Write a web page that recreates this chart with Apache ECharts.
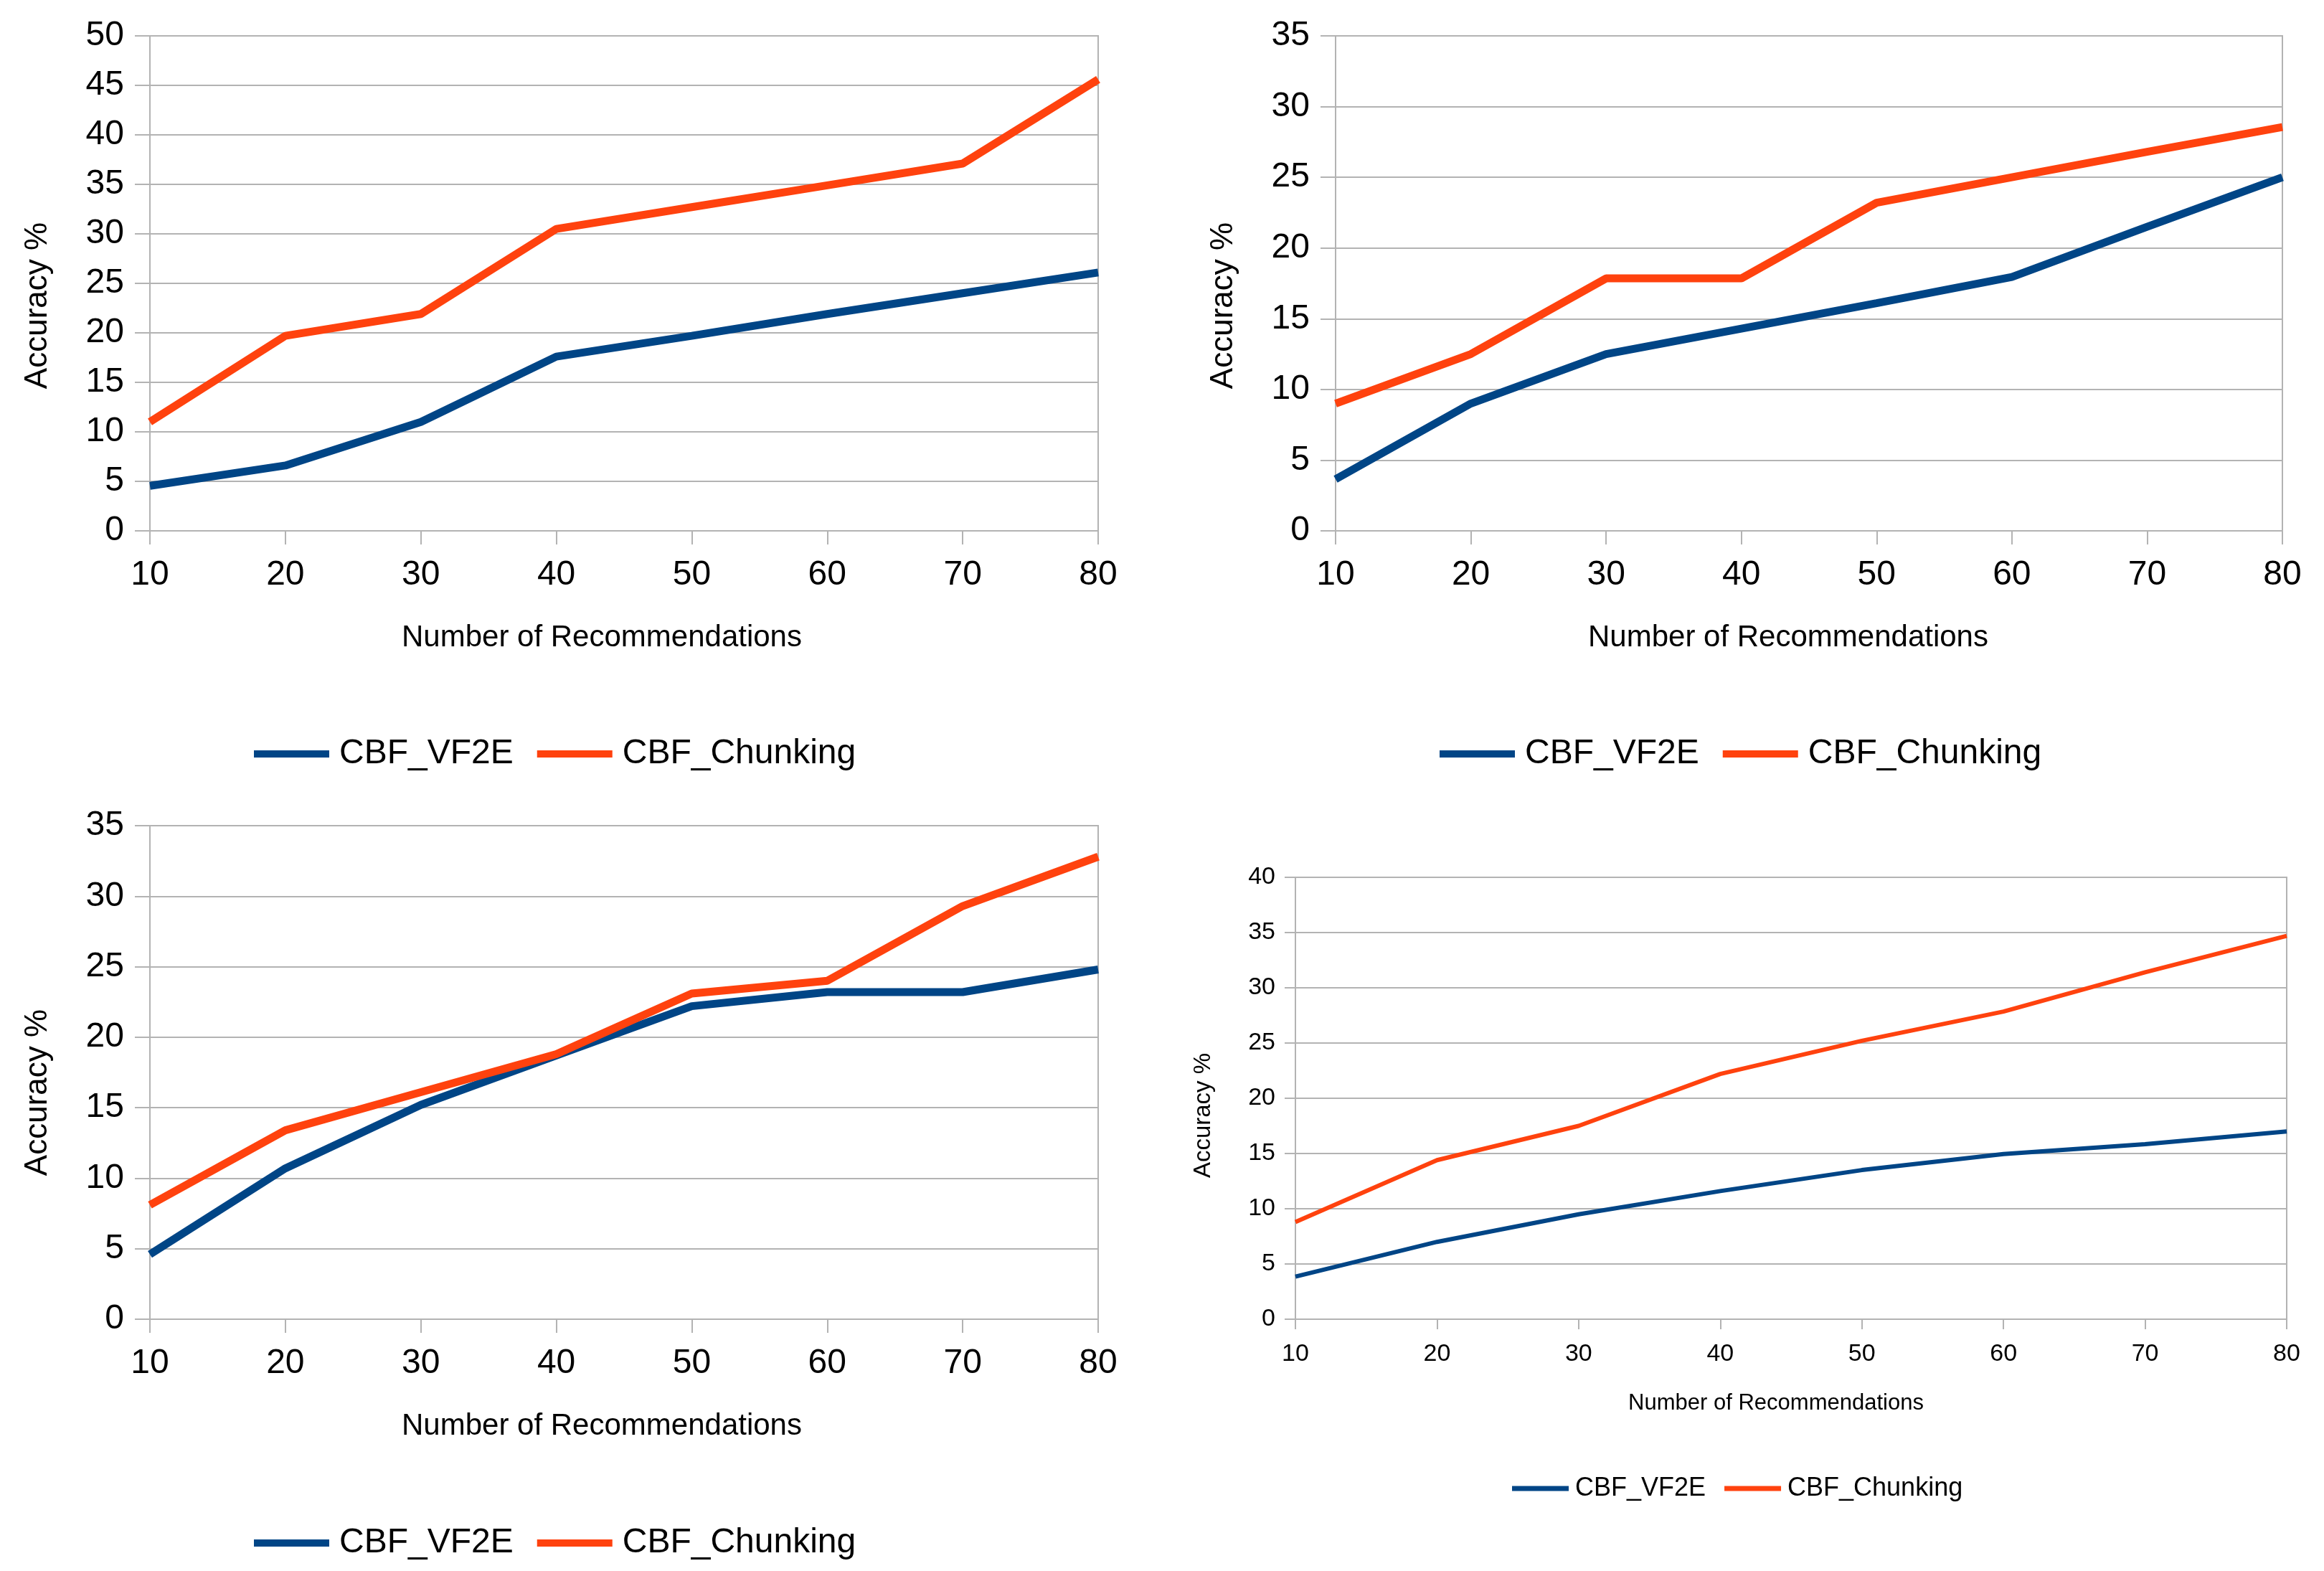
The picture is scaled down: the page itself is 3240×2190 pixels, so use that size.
<!DOCTYPE html>
<html>
<head>
<meta charset="utf-8">
<script src="https://cdn.jsdelivr.net/npm/echarts@6/dist/echarts.min.js"></script>
<style>
html,body{margin:0;padding:0;background:#fff;}
#c{width:3240px;height:2190px;}
</style>
</head>
<body>
<div id="c"></div>
<script>
const recommendations = [10, 20, 30, 40, 50, 60, 70, 80];
const seriesNames = ['CBF_VF2E', 'CBF_Chunking'];

const p1VF2E     = [4.55, 6.6, 11.0, 17.6, 19.7, 21.9, 24.0, 26.1];
const p1Chunking = [11.0, 19.7, 21.9, 30.5, 32.7, 34.9, 37.1, 45.6];

const p2VF2E     = [3.65, 9.0, 12.5, 14.3, 16.1, 17.95, 21.5, 25.0];
const p2Chunking = [9.0, 12.5, 17.85, 17.85, 23.2, 25.0, 26.8, 28.55];

const p3VF2E     = [4.6, 10.7, 15.2, 18.7, 22.2, 23.2, 23.2, 24.8];
const p3Chunking = [8.1, 13.4, 16.1, 18.8, 23.1, 24.0, 29.3, 32.8];

const p4VF2E     = [3.85, 7.0, 9.5, 11.6, 13.5, 14.95, 15.85, 17.0];
const p4Chunking = [8.8, 14.4, 17.5, 22.2, 25.2, 27.85, 31.4, 34.7];

const yMax = [50, 35, 35, 40];
const yTitle = 'Accuracy %';
const xTitle = 'Number of Recommendations';

const colors = ['#004586', '#ff420e'];
const FONT = 'Liberation Sans, Arial, sans-serif';
const GRAY = '#b3b3b3';

const panels = [
  {grid:{left:209, top:50, width:1322, height:690}, data:[p1VF2E,p1Chunking], big:true,
   xShift:62, yShift:62, legend:{left:349, top:1022}},
  {grid:{left:1862, top:50, width:1320, height:690}, data:[p2VF2E,p2Chunking], big:true,
   xShift:58, yShift:62, legend:{left:2002, top:1022}},
  {grid:{left:209, top:1151, width:1322, height:688}, data:[p3VF2E,p3Chunking], big:true,
   xShift:62, yShift:56, legend:{left:349, top:2122}},
  {grid:{left:1806, top:1223, width:1382, height:616}, data:[p4VF2E,p4Chunking], big:false,
   xShift:42, yShift:48, legend:{left:2103, top:2052}}
];

const grids = [], xAxes = [], yAxes = [], series = [], legends = [];
panels.forEach((p, i) => {
  const big = p.big;
  grids.push(Object.assign({show:true, borderColor:GRAY, borderWidth:2, backgroundColor:'transparent'}, p.grid));
  xAxes.push({
    type:'value', gridIndex:i, min:10, max:80, interval:10,
    name:xTitle, nameLocation:'middle', nameGap: big ? 128 : 102,
    nameTextStyle:{fontFamily:FONT, fontSize: big ? 42 : 31, color:'#000', padding:[0, p.xShift, 0, 0]},
    axisLine:{show:true, lineStyle:{color:GRAY, width:2}},
    axisTick:{show:true, length: big ? 19 : 14, lineStyle:{color:GRAY, width:2}},
    axisLabel:{fontFamily:FONT, fontSize: big ? 48 : 34, color:'#000', margin: big ? 38 : 32},
    splitLine:{show:false}
  });
  yAxes.push({
    type:'value', gridIndex:i, min:0, max:yMax[i], interval:5,
    name:yTitle, nameLocation:'middle', nameGap: big ? 134 : 112, nameRotate:90,
    nameTextStyle:{fontFamily:FONT, fontSize: big ? 44 : 33, color:'#000', padding:[0, p.yShift, 0, 0]},
    axisLine:{show:true, lineStyle:{color:GRAY, width:2}},
    axisTick:{show:true, length: big ? 21 : 15, lineStyle:{color:GRAY, width:2}},
    axisLabel:{fontFamily:FONT, fontSize: big ? 48 : 34, color:'#000', margin: big ? 36 : 28},
    splitLine:{show:true, lineStyle:{color:GRAY, width:2}}
  });
  p.data.forEach((vals, k) => {
    series.push({
      type:'line', name:seriesNames[k], xAxisIndex:i, yAxisIndex:i,
      data: recommendations.map((x, j) => [x, vals[j]]),
      symbol:'none', smooth:false, animation:false,
      lineStyle:{color:colors[k], width: big ? 11 : 6},
      itemStyle:{color:colors[k]}
    });
  });
  legends.push({
    data:seriesNames, left:p.legend.left, top:p.legend.top, orient:'horizontal',
    icon:'rect', itemWidth: big ? 105 : 79, itemHeight: big ? 10 : 7, itemGap: big ? 33 : 26,
    textStyle:{fontFamily:FONT, fontSize: big ? 48 : 36, color:'#000', padding:[0,0,0, big ? 9 : 4]}
  });
});

const chart = echarts.init(document.getElementById('c'), null, {renderer:'canvas'});
chart.setOption({
  backgroundColor:'#fff',
  animation:false,
  color:colors,
  grid:grids, xAxis:xAxes, yAxis:yAxes, series:series, legend:legends
});
</script>
</body>
</html>
